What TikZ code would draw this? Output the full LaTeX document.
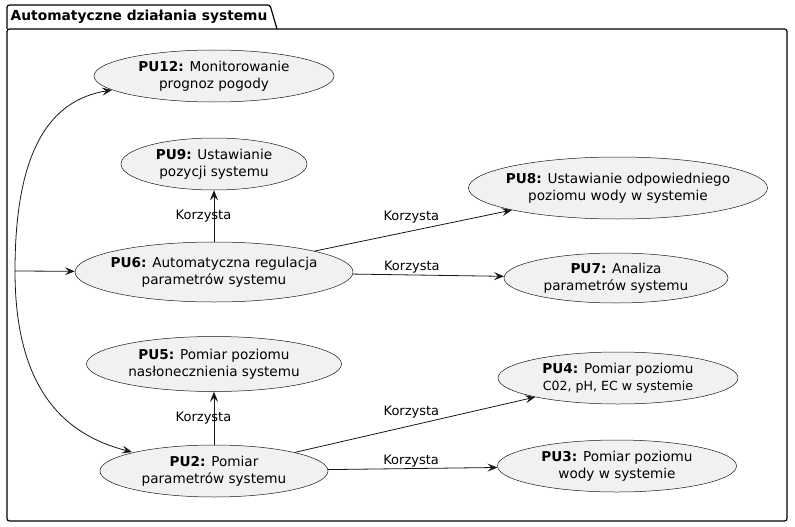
\documentclass[tikz,border=0pt]{standalone}
\usepackage{fontspec}
\setmainfont{DejaVu Sans}
\usetikzlibrary{arrows.meta,shapes.geometric}
\definecolor{ucfill}{HTML}{F1F1F1}
\definecolor{ucline}{HTML}{181818}
\begin{document}
\begin{tikzpicture}[x=1pt,y=-1pt,
  uc/.style n args={3}{ellipse, draw=ucline, fill=ucfill, line width=0.5pt,
    minimum width=#1, minimum height=#2, inner sep=0pt,
    label={[align=center, font=\fontsize{13.6}{17}\selectfont, inner sep=0pt]center:#3}},
  conn/.style={draw=ucline, line width=0.8pt, -{Stealth[length=10pt,width=8pt,inset=4pt]}},
  lbl/.style={font=\fontsize{13}{15}\selectfont, inner sep=0pt},
  frameline/.style={draw=black, line width=1.2pt}]
\useasboundingbox (0,0) rectangle (795,527);
\fill[white] (0,0) rectangle (795,527);
% package frame
\draw[frameline, rounded corners=2.5pt] (7,29) rectangle (787,521);
\draw[frameline, rounded corners=2.5pt] (7,29) -- (7,5) -- (270,5) -- (277,29);
\node[font=\bfseries\fontsize{13.8}{16}\selectfont, anchor=west, inner sep=0pt] (title) at (10.5,17) {Automatyczne działania systemu};
% use cases
\node[uc={240pt}{52pt}{\textbf{PU12:} Monitorowanie\\prognoz pogody}] (pu12) at (214,76) {};
\node[uc={186pt}{52pt}{\textbf{PU9:} Ustawianie\\pozycji systemu}] (pu9) at (214,164) {};
\node[uc={278pt}{60pt}{\textbf{PU6:} Automatyczna regulacja\\parametrów systemu}] (pu6) at (214,272) {};
\node[uc={299pt}{62pt}{\textbf{PU8:} Ustawianie odpowiedniego\\poziomu wody w systemie}] (pu8) at (618,188) {};
\node[uc={224pt}{50pt}{\textbf{PU7:} Analiza\\parametrów systemu}] (pu7) at (616,278) {};
\node[uc={255pt}{55pt}{\textbf{PU5:} Pomiar poziomu\\nasłonecznienia systemu}] (pu5) at (214,364) {};
\node[uc={228pt}{52pt}{\textbf{PU2:} Pomiar\\parametrów systemu}] (pu2) at (214,471) {};
\node[uc={240pt}{52pt}{\textbf{PU4:} Pomiar poziomu\\{\fontsize{12.6}{17}\selectfont C02, pH, EC w systemie}}] (pu4) at (618,378) {};
\node[uc={239pt}{52pt}{\textbf{PU3:} Pomiar poziomu\\wody w systemie}] (pu3) at (617,466) {};
% source point
\coordinate (src) at (15,271);
\coordinate (e12) at (112,90);
\coordinate (e2) at (132,452);
\draw[conn] (src) .. controls (15,150) and (50,100) .. (e12);
\draw[conn] (src) -- (pu6);
\draw[conn] (src) .. controls (15,390) and (65,435) .. (e2);
% uses
\draw[conn] (pu6) -- node[lbl, pos=0.5, xshift=-10.5pt] {Korzysta} (pu9);
\draw[conn] (pu6) -- node[lbl, pos=0.49, yshift=13.6pt] {Korzysta} (pu8);
\draw[conn] (pu6) -- node[lbl, pos=0.39, yshift=7.5pt] {Korzysta} (pu7);
\draw[conn] (pu2) -- node[lbl, pos=0.5, xshift=-10.5pt] {Korzysta} (pu5);
\draw[conn] (pu2) -- node[lbl, pos=0.485, yshift=13.8pt] {Korzysta} (pu4);
\draw[conn] (pu2) -- node[lbl, pos=0.49, yshift=7.5pt] {Korzysta} (pu3);
\end{tikzpicture}
\end{document}
